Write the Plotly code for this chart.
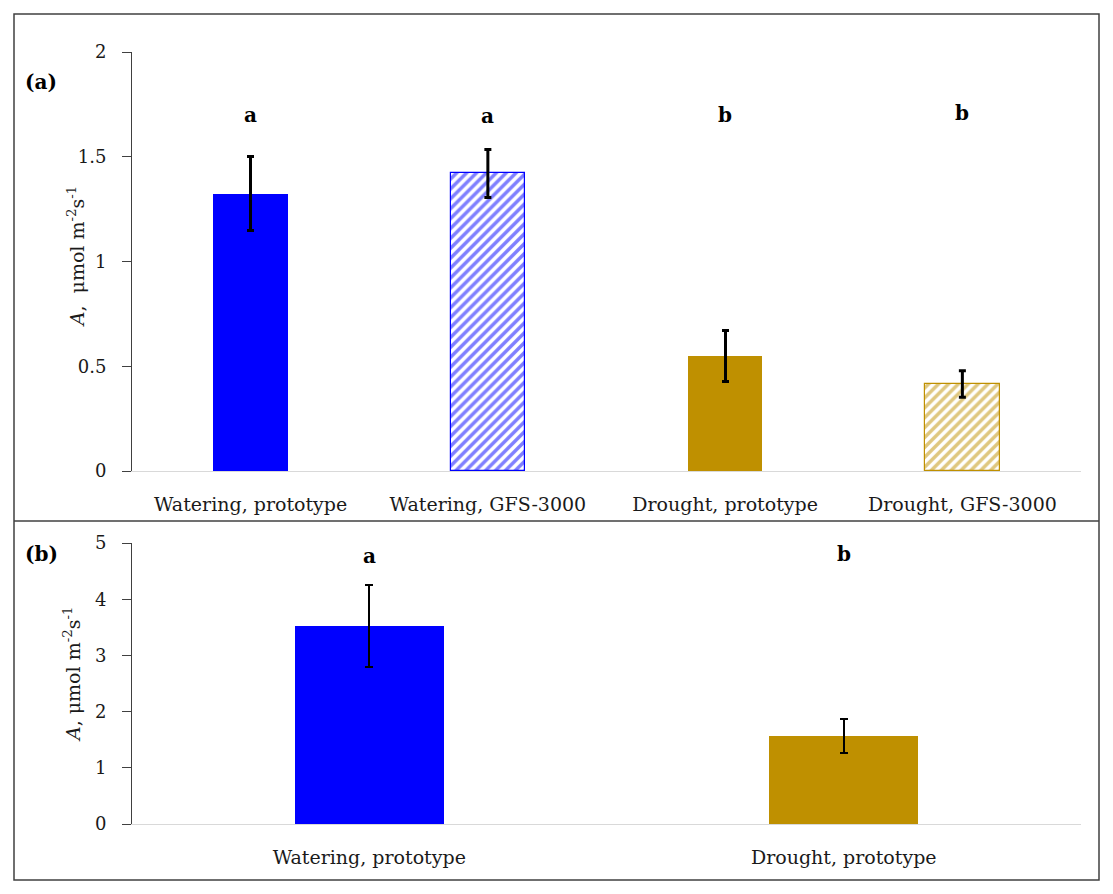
import plotly.graph_objects as go

# the page body has an 8px margin, so the figure is drawn 8px smaller and
# every reference pixel position is shifted by that amount
OFF = 8
W, H = 1113 - OFF, 894 - OFF

# panel (a)
cats_a = ["Watering, prototype", "Watering, GFS-3000", "Drought, prototype", "Drought, GFS-3000"]
vals_a = [1.324, 1.421, 0.549, 0.415]
err_hi_a = [0.176, 0.114, 0.124, 0.064]
err_lo_a = [0.174, 0.115, 0.123, 0.063]
letters_a = ["a", "a", "b", "b"]
letter_y_a = [1.70, 1.695, 1.70, 1.71]

# panel (b)
cats_b = ["Watering, prototype", "Drought, prototype"]
vals_b = [3.525, 1.57]
err_hi_b = [0.725, 0.296]
err_lo_b = [0.725, 0.313]
letters_b = ["a", "b"]
letter_y_b = [4.77, 4.81]

BLUE = "#0000FF"
GOLD = "#BF9000"
FONT = "DejaVu Serif"


def px_x(p):
    return (p - OFF) / W


def px_y(p):
    return 1 - (p - OFF) / H


fig = go.Figure()

# panel (a): one trace per bar so each can carry its own fill / hatch
colors_a = [BLUE, BLUE, GOLD, GOLD]
hatched_a = [False, True, False, True]
for c, v, eh, el, col, hat in zip(cats_a, vals_a, err_hi_a, err_lo_a, colors_a, hatched_a):
    if hat:
        marker = dict(color="white", line=dict(color=col, width=1.2),
                      pattern=dict(shape="/", fgcolor=col, bgcolor="white",
                                   size=7, solidity=0.5, fillmode="overlay"))
    else:
        marker = dict(color=col, line=dict(width=0))
    fig.add_trace(go.Bar(
        x=[c], y=[v], width=0.315, marker=marker,
        error_y=dict(type="data", symmetric=False, array=[eh], arrayminus=[el],
                     color="black", thickness=3, width=3.5),
        xaxis="x", yaxis="y", showlegend=False,
    ))

fig.add_trace(go.Bar(
    x=cats_b, y=vals_b, width=0.315,
    marker=dict(color=[BLUE, GOLD], line=dict(width=0)),
    error_y=dict(type="data", symmetric=False, array=err_hi_b, arrayminus=err_lo_b,
                 color="black", thickness=2, width=4),
    xaxis="x2", yaxis="y2", showlegend=False,
))

# significance letters
letter_font = dict(size=20, color="black", family=FONT)
for c, t, yv in zip(cats_a, letters_a, letter_y_a):
    fig.add_annotation(x=c, y=yv, xref="x", yref="y", text="<b>%s</b>" % t,
                       showarrow=False, font=letter_font)
for c, t, yv in zip(cats_b, letters_b, letter_y_b):
    fig.add_annotation(x=c, y=yv, xref="x2", yref="y2", text="<b>%s</b>" % t,
                       showarrow=False, font=letter_font)

# panel tags and y titles, placed against each y axis
ytitle = "<i>A</i>,  μmol m<sup>-2</sup>s<sup>-1</sup>"
tag_font = dict(size=20, color="black", family=FONT)
title_font = dict(size=19, color="#1a1a1a", family=FONT)
fig.add_annotation(x=px_x(41), y=1.857, xref="paper", yref="y", text="<b>(a)</b>",
                   xanchor="center", showarrow=False, font=tag_font)
fig.add_annotation(x=px_x(41), y=4.8, xref="paper", yref="y2", text="<b>(b)</b>",
                   xanchor="center", showarrow=False, font=tag_font)
fig.add_annotation(x=px_x(76), y=1.02, xref="paper", yref="y", text=ytitle,
                   xanchor="center", textangle=-90, showarrow=False, font=title_font)
fig.add_annotation(x=px_x(72), y=2.65, xref="paper", yref="y2", text=ytitle.replace(",  ", ", "),
                   xanchor="center", textangle=-90, showarrow=False, font=title_font)

# frames
frame = dict(color="#404040", width=1.5)
fig.add_shape(type="rect", xref="paper", yref="paper",
              x0=px_x(14), x1=px_x(1099), y0=px_y(880), y1=px_y(14), line=frame)
fig.add_shape(type="line", xref="paper", yref="paper",
              x0=px_x(14), x1=px_x(1099), y0=px_y(521), y1=px_y(521), line=frame)

xcommon = dict(showgrid=False, showline=True, linecolor="#d9d9d9", linewidth=1,
               ticks="", tickfont=dict(size=19, color="#1a1a1a", family=FONT),
               ticklabelstandoff=16, zeroline=False, fixedrange=True, automargin=False)
ycommon = dict(showgrid=False, showline=True, linecolor="#404040", linewidth=1,
               ticks="outside", ticklen=9, tickcolor="#404040",
               tickfont=dict(size=18, color="#1a1a1a", family=FONT),
               ticklabelstandoff=12, zeroline=False, fixedrange=True, automargin=False)

fig.update_layout(
    width=W, height=H,
    margin=dict(l=0, r=0, t=0, b=0),
    paper_bgcolor="white", plot_bgcolor="white",
    barmode="overlay", bargap=0,
    xaxis=dict(domain=[px_x(132), px_x(1081)], anchor="y",
               categoryorder="array", categoryarray=cats_a, **xcommon),
    yaxis=dict(domain=[px_y(471), px_y(52)], range=[0, 2], dtick=0.5, anchor="x", **ycommon),
    xaxis2=dict(domain=[px_x(132), px_x(1081)], anchor="y2", **xcommon),
    yaxis2=dict(domain=[px_y(824), px_y(543)], range=[0, 5], dtick=1, anchor="x2", **ycommon),
)

fig.write_html("out.html")
